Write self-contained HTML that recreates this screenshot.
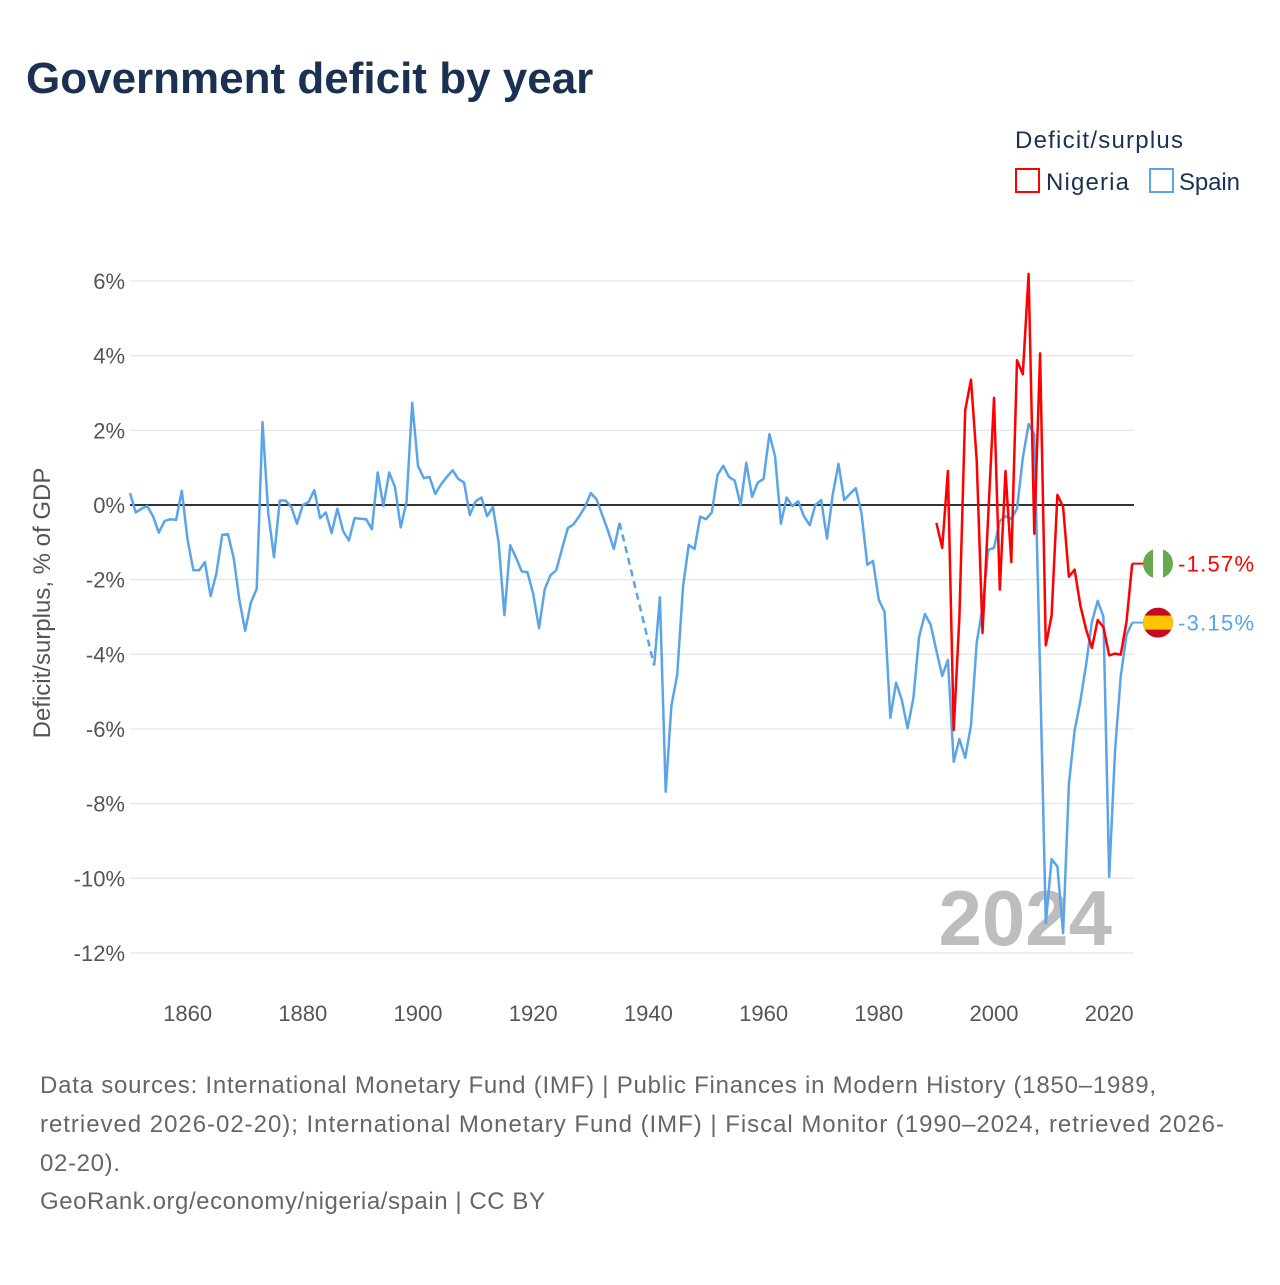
<!DOCTYPE html>
<html><head><meta charset="utf-8"><style>
body{margin:0;background:#fff;font-family:"Liberation Sans",sans-serif}
</style></head><body>
<svg width="1280" height="1280" xmlns="http://www.w3.org/2000/svg" style="font-family:'Liberation Sans',sans-serif">
<text x="26" y="93" font-size="44" font-weight="bold" fill="#1b3152">Government deficit by year</text>
<text x="1015" y="148" font-size="24" fill="#1b3152" textLength="168">Deficit/surplus</text>
<g><rect x="1016" y="169" width="23" height="23" fill="none" stroke="#ff0000" stroke-width="2"/><text x="1046" y="190" font-size="24" fill="#1b3152" textLength="83">Nigeria</text></g>
<g><rect x="1150" y="169" width="23" height="23" fill="none" stroke="#5ba4e8" stroke-width="2"/><text x="1179" y="190" font-size="24" fill="#1b3152" textLength="61">Spain</text></g>
<text transform="translate(50,603) rotate(-90)" text-anchor="middle" font-size="24" fill="#555">Deficit/surplus, % of GDP</text>
<g id="grid"></g>
<text x="1112" y="945" text-anchor="end" font-size="78" font-weight="bold" fill="#bdbdbd">2024</text>
<g id="plot"></g>
<text x="40" y="1093" font-size="24" fill="#666" textLength="1116">Data sources: International Monetary Fund (IMF) | Public Finances in Modern History (1850–1989,</text>
<text x="40" y="1132" font-size="24" fill="#666" textLength="1184">retrieved 2026-02-20); International Monetary Fund (IMF) | Fiscal Monitor (1990–2024, retrieved 2026-</text>
<text x="40" y="1171" font-size="24" fill="#666" textLength="80">02-20).</text>
<text x="40" y="1209" font-size="24" fill="#666" textLength="505">GeoRank.org/economy/nigeria/spain | CC BY</text>
</svg>
<script>
const yTicks=[6,4,2,0,-2,-4,-6,-8,-10,-12];
const xTicks=[1860,1880,1900,1920,1940,1960,1980,2000,2020];
const spainStart=1850;
const spainA=[0.32,-0.2,-0.1,-0.03,-0.3,-0.74,-0.43,-0.38,-0.4,0.38,-0.94,-1.75,-1.75,-1.53,-2.44,-1.83,-0.8,-0.78,-1.42,-2.55,-3.37,-2.6,-2.25,2.22,-0.2,-1.4,0.12,0.12,-0.05,-0.5,0,0.08,0.4,-0.35,-0.2,-0.75,-0.1,-0.7,-0.95,-0.35,-0.37,-0.38,-0.65,0.87,-0.03,0.87,0.48,-0.6,0.08,2.74,1.05,0.72,0.75,0.3,0.55,0.75,0.93,0.7,0.6,-0.27,0.1,0.2,-0.3,-0.05,-1.0,-2.95,-1.08,-1.4,-1.78,-1.8,-2.38,-3.3,-2.26,-1.88,-1.75,-1.18,-0.62,-0.52,-0.3,-0.05,0.32,0.15,-0.27,-0.7,-1.18,-0.48];
const spainBStart=1941;
const spainB=[-4.3,-2.47,-7.68,-5.38,-4.55,-2.19,-1.07,-1.18,-0.31,-0.38,-0.2,0.8,1.05,0.75,0.65,0,1.13,0.22,0.6,0.7,1.9,1.3,-0.5,0.2,-0.03,0.1,-0.3,-0.54,0,0.13,-0.9,0.27,1.1,0.13,0.3,0.45,-0.22,-1.6,-1.5,-2.54,-2.86,-5.7,-4.76,-5.22,-5.98,-5.17,-3.53,-2.92,-3.2,-3.9,-4.58,-4.15,-6.88,-6.27,-6.77,-5.9,-3.69,-2.76,-1.2,-1.15,-0.43,-0.3,-0.37,-0.1,1.26,2.17,1.9,-4.5,-11.2,-9.49,-9.68,-11.47,-7.48,-6.04,-5.25,-4.26,-3.13,-2.57,-2.99,-9.96,-6.6,-4.6,-3.48,-3.15];
const nigeriaStart=1990;
const nigeria=[-0.48,-1.15,0.91,-6.03,-3.0,2.54,3.36,1.2,-3.43,-0.3,2.87,-2.27,0.91,-1.53,3.88,3.5,6.19,-0.77,4.06,-3.76,-2.96,0.27,-0.05,-1.92,-1.73,-2.7,-3.34,-3.83,-3.08,-3.27,-4.03,-3.98,-4.01,-3.13,-1.57];
const NS="http://www.w3.org/2000/svg";
const X=y=>130+(y-1850)*5.76;
const Y=v=>505-v*37.33;
const grid=document.getElementById('grid'),plot=document.getElementById('plot');
function mk(tag,attrs,parent){const e=document.createElementNS(NS,tag);for(const k in attrs)e.setAttribute(k,attrs[k]);parent.appendChild(e);return e;}
yTicks.forEach(t=>{
 const l=mk('line',{x1:130,x2:1134,y1:Y(t),y2:Y(t),stroke:t===0?'#333':'#e6e6e6','stroke-width':t===0?2:1.3},grid);
 
 
 const tx=mk('text',{x:125,y:Y(t)+8,'text-anchor':'end','font-size':22,fill:'#555'},grid);
 tx.textContent=t+'%';
 
 
});
xTicks.forEach(t=>{
 const tx=mk('text',{x:X(t),y:1021,'text-anchor':'middle','font-size':22,fill:'#555'},grid);
 tx.textContent=t;
 
 
});
function pts(start,arr){return arr.map((v,i)=>X(start+i).toFixed(1)+','+Y(v).toFixed(1)).join(' ');}
let p=mk('polyline',{points:pts(spainStart,spainA),fill:'none',stroke:'#5ba4e8','stroke-width':2.5,'stroke-linejoin':'round'},plot);


const lastA=spainA[spainA.length-1];
p=mk('line',{x1:X(spainStart+spainA.length-1),y1:Y(lastA),x2:X(spainBStart),y2:Y(spainB[0]),stroke:'#5ba4e8','stroke-width':2.5,'stroke-dasharray':'7,5'},plot);


p=mk('polyline',{points:pts(spainBStart,spainB),fill:'none',stroke:'#5ba4e8','stroke-width':2.5,'stroke-linejoin':'round'},plot);


p=mk('polyline',{points:pts(nigeriaStart,nigeria),fill:'none',stroke:'#ff0000','stroke-width':2.5,'stroke-linejoin':'round'},plot);


function endLabel(val,color,name,flag){
 const y=Y(val),x0=X(2024);
 const l=mk('line',{x1:x0,y1:y,x2:1145,y2:y,stroke:color,'stroke-width':2},plot);
 
 
 const g=mk('g',{},plot);
 
 
 const cid='c'+name;
 const cp=mk('clipPath',{id:cid},g);mk('circle',{cx:1158,cy:y,r:15},cp);
 const gg=mk('g',{'clip-path':'url(#'+cid+')'},g);
 if(flag==='ng'){mk('rect',{x:1143,y:y-15,width:10,height:30,fill:'#6aa84f'},gg);mk('rect',{x:1153,y:y-15,width:10,height:30,fill:'#fff'},gg);mk('rect',{x:1163,y:y-15,width:10,height:30,fill:'#6aa84f'},gg);}
 else{mk('rect',{x:1143,y:y-15,width:30,height:30,fill:'#c60b1e'},gg);mk('rect',{x:1143,y:y-7,width:30,height:14,fill:'#ffc400'},gg);}
 const t=mk('text',{x:1178,y:y+8,'font-size':22,fill:color,textLength:76},plot);
 t.textContent=val.toFixed(2)+'%';
 
 
}
endLabel(nigeria[nigeria.length-1],'#ff0000','nigeria','ng');
endLabel(spainB[spainB.length-1],'#5ba4e8','spain','es');
</script>
</body></html>
